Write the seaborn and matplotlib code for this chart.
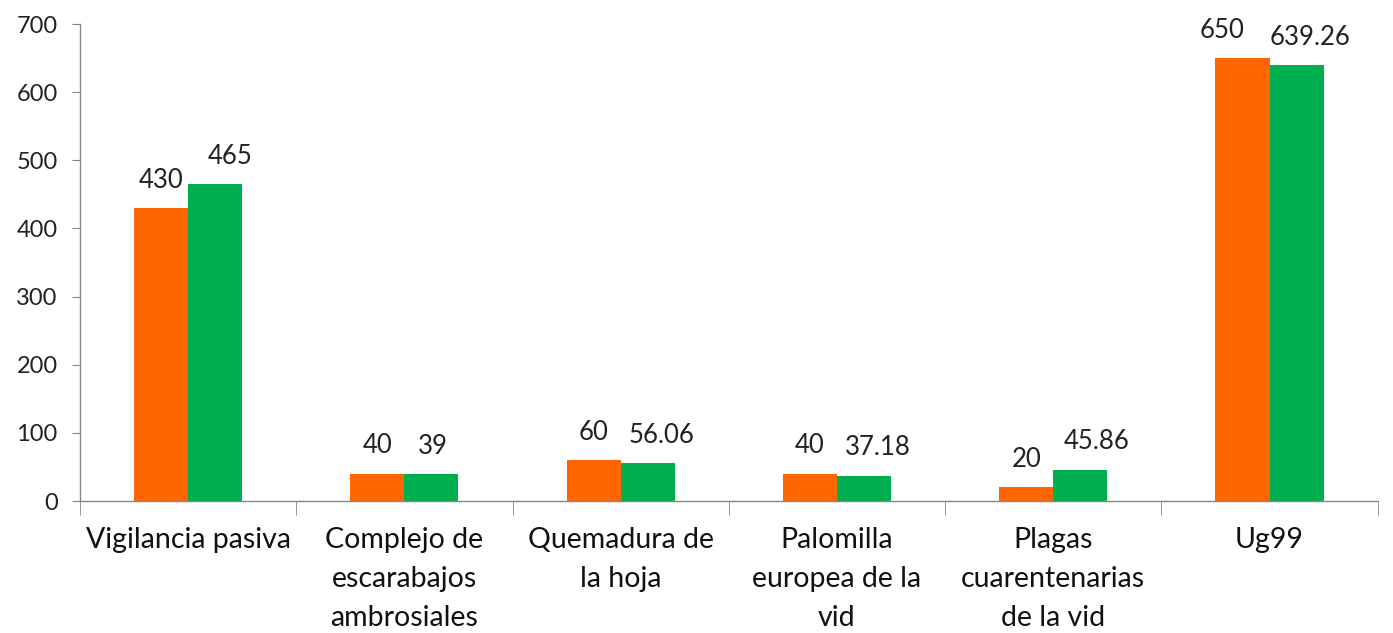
import matplotlib
matplotlib.use("Agg")
import matplotlib.pyplot as plt
import seaborn as sns
import pandas as pd
import numpy as np

categorias = ["Vigilancia pasiva", "Complejo de\nescarabajos\nambrosiales",
              "Quemadura de\nla hoja", "Palomilla\neuropea de la\nvid",
              "Plagas\ncuarentenarias\nde la vid", "Ug99"]
programado = [430, 40, 60, 40, 20, 650]
alcanzado = [465, 39, 56.06, 37.18, 45.86, 639.26]
etiquetas_prog = ["430", "40", "60", "40", "20", "650"]
etiquetas_alc = ["465", "39", "56.06", "37.18", "45.86", "639.26"]
# small horizontal nudges of the data labels (points), as in the original
ajuste_prog = [0, 0, 0, 0, 0, -15]
ajuste_alc = [11, 1, 10, 10, 12, 10]

df = pd.DataFrame({
    "categoria": categorias * 2,
    "valor": programado + alcanzado,
    "serie": ["Programado"] * len(categorias) + ["Alcanzado"] * len(categorias),
})

sns.set_style("white")
plt.rcParams["font.family"] = ["Lato", "DejaVu Sans"]

fig = plt.figure(figsize=(13.93, 6.33), dpi=100)
ax = fig.add_axes([0.0574, 0.2085, 0.9316, 0.7535])

sns.barplot(data=df, x="categoria", y="valor", hue="serie",
            palette=["#FF6600", "#00B050"], width=0.5, saturation=1,
            linewidth=0, legend=False, ax=ax)

# data labels
for cont, labs, nudges in zip(ax.containers, [etiquetas_prog, etiquetas_alc],
                              [ajuste_prog, ajuste_alc]):
    for bar, lab, dx in zip(cont, labs, nudges):
        ax.annotate(lab, (bar.get_x() + bar.get_width() / 2, bar.get_height()),
                    xytext=(dx, 11), textcoords="offset points",
                    ha="center", va="bottom", fontsize=18.5, color="#222222")

ax.set_ylim(0, 700)
ax.set_xlim(-0.5, len(categorias) - 0.5)
ax.set_yticks(range(0, 701, 100))
ax.set_xlabel("")
ax.set_ylabel("")

for s in ["top", "right"]:
    ax.spines[s].set_visible(False)
for s in ["left", "bottom"]:
    ax.spines[s].set_color("#868686")
    ax.spines[s].set_linewidth(1.0)

ax.tick_params(axis="y", which="major", direction="out", length=6, color="#868686",
               labelsize=17, labelcolor="#222222", left=True, pad=10)
ax.tick_params(axis="x", which="major", length=0, labelsize=20.5,
               labelcolor="#111111", pad=19)
ax.set_xticks(np.arange(-0.5, len(categorias), 1.0), minor=True)
ax.tick_params(axis="x", which="minor", direction="out", length=10,
               color="#868686", bottom=True)

for t in ax.get_xticklabels():
    t.set_verticalalignment("top")
    t.set_linespacing(1.62)

fig.savefig("out.png", dpi=100)
